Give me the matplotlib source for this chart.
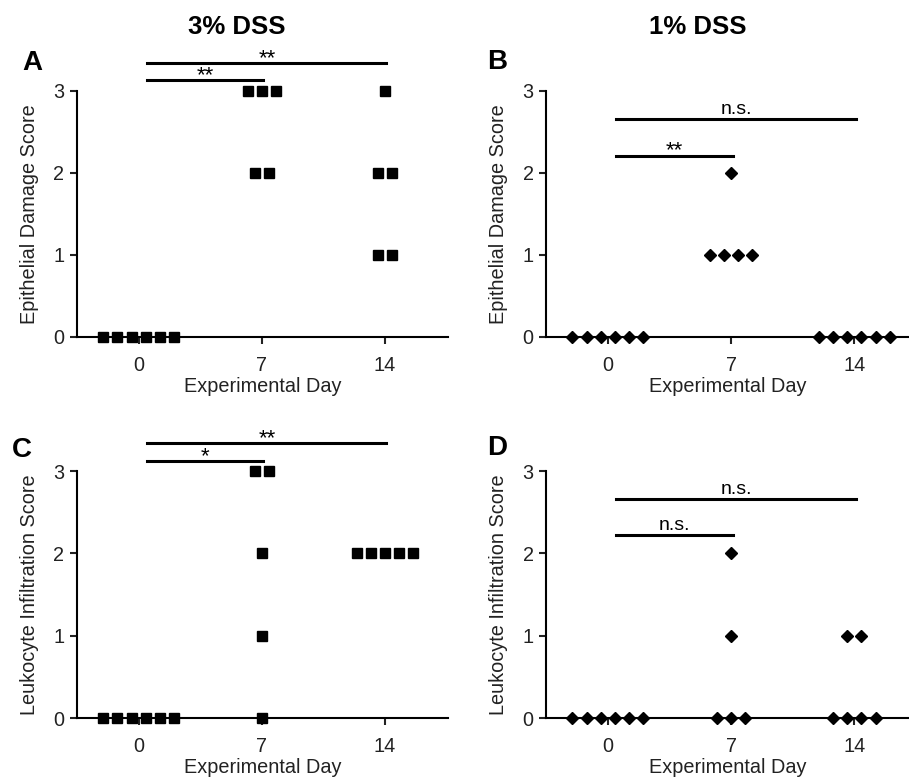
import numpy as np
import matplotlib
matplotlib.use("Agg")
import matplotlib.pyplot as plt

plt.rcParams['font.family'] = ['Liberation Sans', 'DejaVu Sans']

#%% data

days = [0, 7, 14]

# 3% DSS
epi_3 = [[0, 0, 0, 0, 0, 0], [3, 3, 3, 2, 2], [3, 2, 2, 1, 1]]
leu_3 = [[0, 0, 0, 0, 0, 0], [3, 3, 2, 1, 0], [2, 2, 2, 2, 2]]
# 1% DSS
epi_1 = [[0, 0, 0, 0, 0, 0], [2, 1, 1, 1, 1], [0, 0, 0, 0, 0, 0]]
leu_1 = [[0, 0, 0, 0, 0, 0], [2, 1, 0, 0, 0], [1, 1, 0, 0, 0, 0]]

comparisons = [(0, 7), (0, 14)]
sig_A = ["**", "**"]
sig_B = ["**", "n.s."]
sig_C = ["*", "**"]
sig_D = ["n.s.", "n.s."]

yticks = [0, 1, 2, 3]

#%%

fig = plt.figure(figsize=(9.09, 7.78), dpi=100)

W, H = 909, 778
def box(l, r, t, b):            # pixel box -> figure fraction
    return [l / W, 1 - b / H, (r - l) / W, (b - t) / H]

step = 0.8   # horizontal spacing of stacked points, in days


def scatter_panel(ax, groups, marker, ms):
    for d, vals in zip(days, groups):
        vals = np.array(vals)
        for v in np.unique(vals):
            n = np.sum(vals == v)
            xs = d + (np.arange(n) - (n - 1) / 2) * step
            ax.plot(xs, [v] * n, ls="none", marker=marker, ms=ms,
                    color="black", clip_on=False, zorder=5)


def style(ax, ylabel, xlim):
    ax.set_xlim(*xlim)
    ax.set_ylim(0, 3)
    ax.spines["top"].set_visible(False)
    ax.spines["right"].set_visible(False)
    ax.spines["left"].set_linewidth(1.5)
    ax.spines["bottom"].set_linewidth(1.5)
    ax.set_xticks(days)
    ax.set_yticks(yticks)
    ax.tick_params(width=1.5, length=5, labelsize=14.3, colors="#222222")
    ax.tick_params(axis="x", pad=9)
    ax.tick_params(axis="y", pad=4)
    ax.set_xlabel("Experimental Day", fontsize=14.3, labelpad=1, color="#222222")
    ax.set_ylabel(ylabel, fontsize=14.3, labelpad=10, color="#222222")


def sig(ax, labels, heights):
    for (a, b), lab, h in zip(comparisons, labels, heights):
        x0, x1 = a + 0.5, b + 0.1
        ax.plot([x0, x1], [h, h], color="black", lw=2.2, clip_on=False)
        if lab == "n.s.":
            ax.text((x0 + x1) / 2, h + 0.06, lab, ha="center", va="baseline",
                    fontsize=14)
        else:
            ax.text((x0 + x1) / 2, h - 0.01, lab, ha="center", va="baseline",
                    fontsize=16)


axA = fig.add_axes(box(77, 448, 91, 337))
axB = fig.add_axes(box(546, 909, 91, 337))
axC = fig.add_axes(box(77, 448, 471, 718))
axD = fig.add_axes(box(546, 909, 471, 718))

scatter_panel(axA, epi_3, "s", 7.3)
scatter_panel(axB, epi_1, "D", 6.0)
scatter_panel(axC, leu_3, "s", 7.3)
scatter_panel(axD, leu_1, "D", 6.0)

style(axA, "Epithelial Damage Score", (-3.5, 17.6))
style(axB, "Epithelial Damage Score", (-3.5, 17.1))
style(axC, "Leukocyte Infiltration Score", (-3.5, 17.6))
style(axD, "Leukocyte Infiltration Score", (-3.5, 17.1))

sig(axA, sig_A, [3.13, 3.34])
sig(axB, sig_B, [2.21, 2.66])
sig(axC, sig_C, [3.12, 3.34])
sig(axD, sig_D, [2.22, 2.66])

# panel letters
for letter, px, py in [("A", 22, 63), ("B", 487, 62), ("C", 12, 450), ("D", 487, 448)]:
    fig.text(px / W, 1 - py / H, letter, fontsize=20, fontweight="bold",
             ha="left", va="center")

fig.text(237 / W, 1 - 27 / H, "3% DSS", fontsize=18.5, fontweight="bold",
         ha="center", va="center")
fig.text(698 / W, 1 - 27 / H, "1% DSS", fontsize=18.5, fontweight="bold",
         ha="center", va="center")

fig.savefig("out.png", dpi=100)
